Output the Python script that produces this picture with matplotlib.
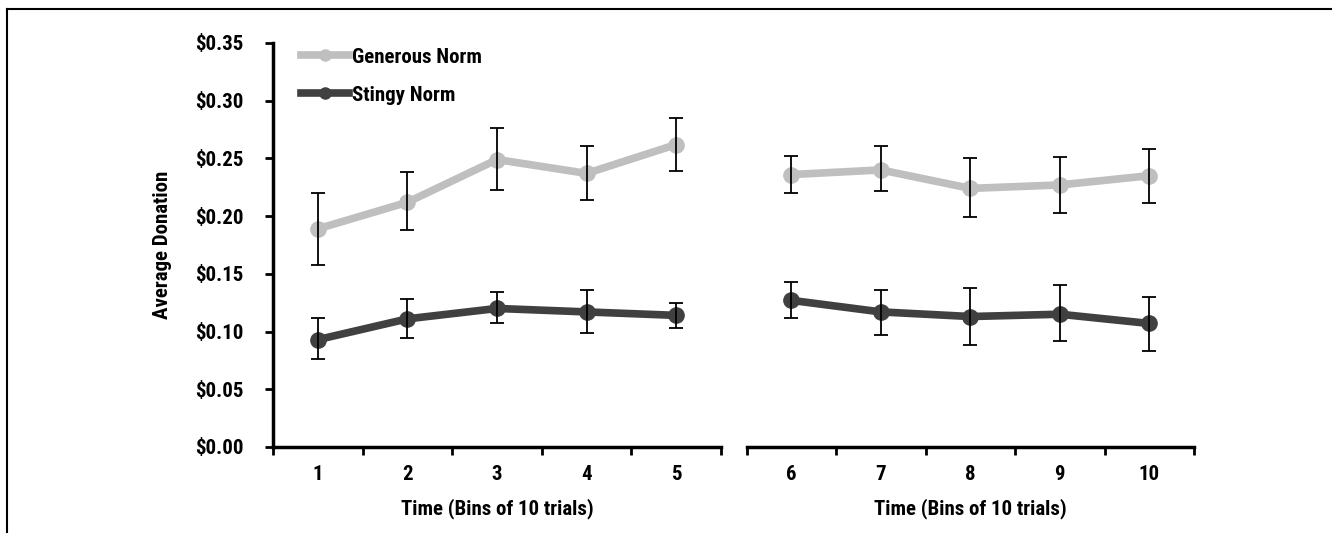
import matplotlib.pyplot as plt
from matplotlib.lines import Line2D
import numpy as np

plt.rcParams['font.family'] = ['Roboto Condensed', 'DejaVu Sans']
plt.rcParams['font.weight'] = 'bold'

# Time bins (split into two blocks of five)
bins_a = [1, 2, 3, 4, 5]
bins_b = [6, 7, 8, 9, 10]

# Average donation per bin
generous = [0.189, 0.212, 0.249, 0.237, 0.262, 0.236, 0.240, 0.224, 0.227, 0.235]
stingy = [0.093, 0.111, 0.120, 0.117, 0.114, 0.127, 0.117, 0.113, 0.115, 0.107]

# Error bar ends (lower, upper)
generous_lo = [0.158, 0.188, 0.223, 0.214, 0.239, 0.220, 0.222, 0.199, 0.203, 0.211]
generous_hi = [0.220, 0.238, 0.276, 0.261, 0.285, 0.252, 0.261, 0.250, 0.251, 0.258]
stingy_lo = [0.076, 0.094, 0.107, 0.099, 0.103, 0.112, 0.097, 0.088, 0.092, 0.083]
stingy_hi = [0.112, 0.128, 0.134, 0.136, 0.125, 0.143, 0.136, 0.138, 0.140, 0.130]

gen_color = '#bfbfbf'
sti_color = '#404040'

fig = plt.figure(figsize=(13.32, 5.33), dpi=100)
ax1 = fig.add_axes([0.2050, 0.1614, 0.3363, 0.7580])
ax2 = fig.add_axes([0.5606, 0.1614, 0.3358, 0.7580])


def draw(ax, x, sl):
    for vals, lo, hi, col in [(generous, generous_lo, generous_hi, gen_color),
                              (stingy, stingy_lo, stingy_hi, sti_color)]:
        v = np.array(vals[sl])
        err = [v - np.array(lo[sl]), np.array(hi[sl]) - v]
        ax.plot(x, v, color=col, lw=5.5, marker='o', ms=11, zorder=2)
        ax.errorbar(x, v, yerr=err, fmt='none', ecolor='black', elinewidth=1.3,
                    capsize=5, capthick=1.3, zorder=3)
    ax.set_xlim(x[0] - 0.5, x[-1] + 0.5)
    ax.set_ylim(0, 0.35)
    ax.set_xticks(np.arange(x[0] - 0.5, x[-1] + 1, 1))
    ax.set_xticklabels([])
    ax.set_xticks(x, minor=True)
    ax.set_xticklabels([str(i) for i in x], minor=True, fontsize=15, fontweight='bold')
    ax.tick_params(axis='x', which='major', direction='out', length=6, width=2)
    ax.tick_params(axis='x', which='minor', length=0, pad=13)
    for s in ['top', 'right']:
        ax.spines[s].set_visible(False)
    ax.spines['bottom'].set_linewidth(2.5)
    ax.set_xlabel('Time (Bins of 10 trials)', fontsize=15, fontweight='bold', labelpad=10)


draw(ax1, bins_a, slice(0, 5))
draw(ax2, bins_b, slice(5, 10))

ax1.spines['left'].set_linewidth(2.5)
ax1.set_yticks(np.arange(0, 0.351, 0.05))
ax1.set_yticklabels(['$%.2f' % t for t in np.arange(0, 0.351, 0.05)], fontsize=15, fontweight='bold')
ax1.tick_params(axis='y', direction='out', length=6, width=2, pad=15)
ax1.set_ylabel('Average Donation', fontsize=15, fontweight='bold', labelpad=17)

ax2.spines['left'].set_visible(False)
ax2.set_yticks([])

handles = [Line2D([], [], color=gen_color, lw=5.5, marker='o', ms=8),
           Line2D([], [], color=sti_color, lw=5.5, marker='o', ms=8)]
ax1.legend(handles, ['Generous Norm', 'Stingy Norm'], loc='upper left',
           bbox_to_anchor=(0.02, 1.035), frameon=False, handlelength=2.3,
           handletextpad=0.15, labelspacing=0.92, prop={'size': 15, 'weight': 'bold'})

# outer frame lines (top and left)
fig.add_artist(Line2D([7 / 1332, 1], [1 - 9 / 533, 1 - 9 / 533], color='black', lw=1.5))
fig.add_artist(Line2D([7 / 1332, 7 / 1332], [0, 1 - 9 / 533], color='black', lw=1.5))

fig.savefig('out.png', dpi=100)
